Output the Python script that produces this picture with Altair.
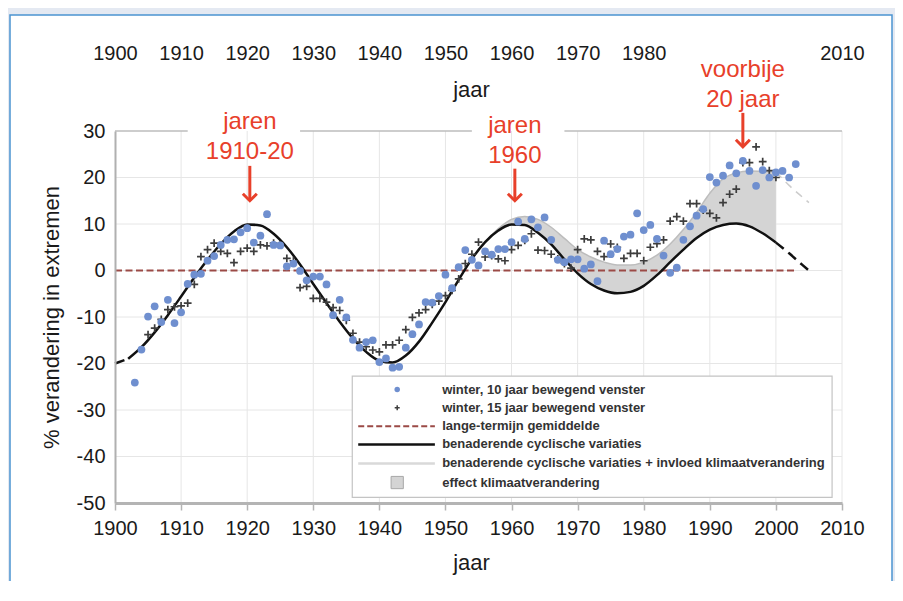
import altair as alt
import pandas as pd

# ---------------- data ----------------
dot_years = list(range(1903, 2004))
dot_vals = [
    -24.1, -17.0, -9.9, -7.7, -11.1, -6.3, -11.3,
    -9.0, -2.9, -0.9, -0.7, 2.1, 3.1, 5.5, 6.6, 6.7, 8.2,
    9.1, 6.0, 7.5, 12.1, 5.5, 5.4, 0.9, 1.5, -0.1, -2.1,
    -1.3, -1.3, -3.0, -9.6, -6.3, -10.1, -14.9, -16.6, -15.4, -15.0,
    -19.7, -18.9, -20.9, -20.7, -16.6, -13.7, -11.6, -6.8, -6.9, -5.5,
    -0.9, -3.8, 0.7, 4.4, 2.3, 1.1, 4.1, 3.4, 4.6, 4.6,
    6.1, 10.5, 6.8, 11.0, 9.3, 11.4, 6.6, 2.3, 1.8, 2.4,
    2.4, 0.4, 1.3, -2.3, 6.4, 3.5, 4.6, 7.3, 7.7, 12.3,
    8.7, 9.8, 6.8, 3.2, -0.5, 0.6, 6.6, 9.5, 11.8, 13.2,
    20.1, 18.9, 20.4, 22.6, 20.9, 23.6, 21.4, 18.2, 21.6, 20.0,
    21.1, 21.4, 20.0, 22.9,
]

cross_years = list(range(1905, 2001))
cross_vals = [
    -13.8, -12.4, -10.5, -8.4, -7.8,
    -7.6, -7.0, -3.0, 3.0, 4.5, 5.9, 4.1, 3.7, 1.7, 4.1,
    4.8, 4.1, 5.5, 5.3, 5.9, 5.5, 2.6, 2.1, -3.7, -3.4,
    -6.0, -6.0, -6.8, -8.0, -8.6, -10.7, -13.5, -15.4, -16.4, -17.1,
    -17.5, -16.0, -16.0, -15.0, -12.7, -10.1, -9.1, -8.4, -7.3, -6.6,
    -5.4, -4.3, -1.8, 1.5, 3.5, 6.1, 2.9, 3.2, 2.5, 2.1,
    4.5, 5.4, 6.5, 7.9, 4.4, 4.3, 3.5, 2.5, 1.5, 0.5,
    4.5, 6.8, 6.6, 4.1, 3.0, 5.7, 5.0, 2.6, 3.7, 3.7,
    2.1, 5.0, 5.8, 6.6, 10.6, 11.6, 10.6, 14.4, 14.4, 13.0,
    12.3, 11.3, 14.6, 16.4, 17.5, 23.2, 23.2, 26.6, 23.4, 21.5,
    20.0,
]

curve_years = list(range(1900, 2001, 2)) + [2002, 2004, 2005]
curve_vals = [
    -20.0, -19.0, -16.5, -13.3, -9.6, -5.6, -1.5, 2.3, 5.7, 8.4,
    9.9, 9.7, 7.9, 5.0, 1.3, -2.9, -7.0, -11.0, -14.6, -17.5,
    -19.4, -19.8, -18.3, -15.3, -11.2, -6.8, -2.0, 2.5, 6.1, 8.6,
    9.9, 9.8, 8.1, 5.6, 2.4, -0.6, -2.9, -4.3, -4.9, -4.6,
    -3.3, -1.0, 1.8, 4.5, 7.0, 8.8, 9.8, 10.1, 9.5, 8.0,
    6.0, 3.7, 1.2, 0.0,
]

upper_years = list(range(1956, 2001, 2))
upper_vals = [
    6.1, 9.0, 11.0, 11.6, 11.0, 9.3, 6.9, 4.5, 2.9, 1.8, 1.2, 1.2,
    1.8, 3.3, 5.7, 8.8, 12.5, 16.6, 19.7, 21.0, 21.4, 21.3, 21.2,
]
upper_ext_years = [2000, 2002, 2004, 2005]
upper_ext_vals = [21.2, 18.3, 15.8, 14.6]

mean_years = [1900, 2003]
mean_vals = [0, 0]

grid_years = list(range(1910, 2011, 10))
grid_vals = list(range(-40, 21, 10))
top_seg_from = [1900, 1928, 1968]
top_seg_to = [1911, 1954, 2010]
top_seg_val = [30, 30, 30]

bottom_ticks = list(range(1900, 2011, 10))
top_ticks = [1900, 1910, 1920, 1930, 1940, 1950, 1960, 1970, 1980, 2010]
y_ticks = list(range(-50, 31, 10))

ann_x = [1920.4, 1960.5, 1995.0]
ann_y = [30.4, 29.6, 41.6]
ann_text = ["jaren\n1910-20", "jaren\n1960", "voorbije\n20 jaar"]
arrow_x = [1920.4, 1960.5, 1995.0]
arrow_from = [22.5, 21.9, 33.9]
arrow_to = [15.0, 15.0, 26.6]

# legend (placed in data units inside the plot)
leg_labels = [
    "winter, 10 jaar bewegend venster",
    "winter, 15 jaar bewegend venster",
    "lange-termijn gemiddelde",
    "benaderende cyclische variaties",
    "benaderende cyclische variaties + invloed klimaatverandering",
    "effect klimaatverandering",
]
leg_rows = [-25.6, -29.5, -33.5, -37.4, -41.5, -45.6]
leg_box_x = [1935.9, 2008.5]
leg_box_y = [-22.7, -48.8]
leg_sym_x = 1942.7
leg_line_x = [1936.8, 1948.4]
leg_text_x = 1949.5

# ---------------- tables ----------------
dots = pd.DataFrame({"yr": dot_years, "v": dot_vals})
crosses = pd.DataFrame({"yr": cross_years, "v": cross_vals})
curve = pd.DataFrame({"yr": curve_years, "v": curve_vals})
curve_main = curve[(curve.yr >= 1902) & (curve.yr <= 2000)]
curve_start = curve[curve.yr <= 1902]
curve_end = curve[curve.yr >= 2000]
upper = pd.DataFrame({"yr": upper_years, "v": upper_vals})
band = upper.merge(curve.rename(columns={"v": "lo"}), on="yr")
upper_ext = pd.DataFrame({"yr": upper_ext_years, "v": upper_ext_vals})
mean = pd.DataFrame({"yr": mean_years, "v": mean_vals})
vgrid = pd.DataFrame({"yr": grid_years})
hgrid = pd.DataFrame({"v": grid_vals})
topline = pd.DataFrame({"a": top_seg_from, "b": top_seg_to, "v": top_seg_val})
ann = pd.DataFrame({"yr": ann_x, "v": ann_y, "t": ann_text})
arrows = pd.DataFrame({"yr": arrow_x, "v": arrow_from, "v2": arrow_to})
one = pd.DataFrame({"k": [0]})

leg_box = pd.DataFrame({"a": [leg_box_x[0]], "b": [leg_box_x[1]],
                        "v": [leg_box_y[0]], "v2": [leg_box_y[1]]})
leg_text = pd.DataFrame({"yr": [leg_text_x] * 6, "v": leg_rows, "t": leg_labels})
leg_dot = pd.DataFrame({"yr": [leg_sym_x], "v": [leg_rows[0]]})
leg_plus = pd.DataFrame({"yr": [leg_sym_x], "v": [leg_rows[1]]})
leg_sq = pd.DataFrame({"yr": [leg_sym_x], "v": [leg_rows[5]]})


def leg_line(i):
    return pd.DataFrame({"a": [leg_line_x[0]], "b": [leg_line_x[1]], "v": [leg_rows[i]]})


FONT = "Liberation Sans"
RED = "#e8402a"
BLUE = "#6f8fcf"
CROSS = "#3d3d3d"
MEAN = "#9b4a46"
CURVE = "#111111"
BAND = "#d4d4d4"

xscale = alt.Scale(domain=[1900, 2010], nice=False, zero=False)
yscale = alt.Scale(domain=[-50, 30], nice=False, zero=False)

yaxis = alt.Axis(values=y_ticks, title="% verandering in extremen", grid=False,
                 ticks=False, domainColor="#b0b0b0", domainWidth=2,
                 labelPadding=10, titlePadding=13, labelExpr="'' + datum.value",
                 zindex=1)
bottom_axis = alt.Axis(orient="bottom", values=bottom_ticks, labelExpr="'' + datum.value",
                       grid=False, domainColor="#b4b4b4", domainWidth=3,
                       tickColor="#b4b4b4", tickWidth=1.5, tickSize=7, labelPadding=8,
                       labelFlush=False, labelOverlap=False, title="jaar",
                       titlePadding=14, titleX=356, zindex=1)
top_axis = alt.Axis(orient="top", values=top_ticks, labelExpr="'' + datum.value",
                    grid=False, domain=False, ticks=False, tickSize=0, labelPadding=0,
                    offset=68, labelFlush=False, labelOverlap=False, title="jaar",
                    titleY=33, titleBaseline="alphabetic", titleX=356, zindex=1)


def X(f, axis=None):
    return alt.X(f, type="quantitative", scale=xscale, axis=axis)


def Y(f):
    return alt.Y(f, type="quantitative", scale=yscale, axis=yaxis)


# ---------------- layers ----------------
panel = alt.Chart(one).mark_rect(fill="white", stroke="#4b94d1", strokeWidth=1.5).encode(
    x=alt.value(-105), x2=alt.value(777), y=alt.value(-116), y2=alt.value(470))

vgrid_l = alt.Chart(vgrid).mark_rule(color="#e6e6e6", strokeWidth=1).encode(
    x=X("yr", top_axis))
hgrid_l = alt.Chart(hgrid).mark_rule(color="#e6e6e6", strokeWidth=1).encode(y=Y("v"))
top_l = alt.Chart(topline).mark_rule(color="#bdbdbd", strokeWidth=1.5).encode(
    x=X("a"), x2="b", y=Y("v"))

band_l = alt.Chart(band).mark_area(color=BAND, opacity=1, interpolate="monotone").encode(
    x=X("yr"), y=Y("v"), y2="lo")
mean_l = alt.Chart(mean).mark_line(color=MEAN, strokeWidth=2, strokeDash=[7, 3.5]).encode(
    x=X("yr"), y=Y("v"))
upper_l = alt.Chart(upper).mark_line(color="#bdbdbd", strokeWidth=1.5, interpolate="monotone").encode(
    x=X("yr"), y=Y("v"))
upper_ext_l = alt.Chart(upper_ext).mark_line(color="#cccccc", strokeWidth=1.5,
                                             strokeDash=[8, 6], interpolate="monotone").encode(
    x=X("yr"), y=Y("v"))
curve_l = alt.Chart(curve_main).mark_line(color=CURVE, strokeWidth=2.5, interpolate="monotone").encode(
    x=X("yr"), y=Y("v"))
curve_s = alt.Chart(curve_start).mark_line(color=CURVE, strokeWidth=2.5, strokeDash=[10, 6]).encode(
    x=X("yr"), y=Y("v"))
curve_e = alt.Chart(curve_end).mark_line(color=CURVE, strokeWidth=2.5, strokeDash=[10, 6],
                                         interpolate="monotone").encode(
    x=X("yr"), y=Y("v"))

PLUS = "M-1,0H1M0,-1V1"
cross_l = alt.Chart(crosses).mark_point(shape=PLUS, filled=False, size=60,
                                        color=CROSS, strokeWidth=1.7, opacity=1).encode(
    x=X("yr"), y=Y("v"))
dots_l = alt.Chart(dots).mark_point(shape="circle", filled=True, size=60, opacity=1,
                                    color=BLUE).encode(
    x=X("yr", bottom_axis), y=Y("v"))

ann_l = alt.Chart(ann).mark_text(font=FONT, fontSize=24, color=RED, align="center",
                                 baseline="alphabetic", lineBreak="\n", lineHeight=30).encode(
    x=X("yr"), y=Y("v"), text="t:N")
shaft_l = alt.Chart(arrows).mark_rule(color=RED, strokeWidth=3).encode(
    x=X("yr"), y=Y("v"), y2="v2")
head_l = alt.Chart(arrows).mark_point(shape="M-1,-1L0,0L1,-1", filled=False, size=196,
                                      color=RED, strokeWidth=3, opacity=1).encode(
    x=X("yr"), y=Y("v2"))

# legend
lbox = alt.Chart(leg_box).mark_rect(fill="white", stroke="#c4c4c4", strokeWidth=1.2).encode(
    x=X("a"), x2="b", y=Y("v"), y2="v2")
ldot = alt.Chart(leg_dot).mark_point(shape="circle", filled=True, size=30, opacity=1,
                                     color=BLUE).encode(x=X("yr"), y=Y("v"))
lplus = alt.Chart(leg_plus).mark_point(shape=PLUS, filled=False, size=25, opacity=1,
                                       color=CROSS, strokeWidth=1.5).encode(x=X("yr"), y=Y("v"))
lmean = alt.Chart(leg_line(2)).mark_rule(color=MEAN, strokeWidth=2, strokeDash=[6, 3]).encode(
    x=X("a"), x2="b", y=Y("v"))
lcurve = alt.Chart(leg_line(3)).mark_rule(color=CURVE, strokeWidth=2.5).encode(
    x=X("a"), x2="b", y=Y("v"))
lupper = alt.Chart(leg_line(4)).mark_rule(color="#d9d9d9", strokeWidth=2.5).encode(
    x=X("a"), x2="b", y=Y("v"))
lsq = alt.Chart(leg_sq).mark_point(shape="square", filled=True, size=150, opacity=1,
                                   fill=BAND, stroke="#a8a8a8", strokeWidth=1).encode(
    x=X("yr"), y=Y("v"))
ltext = alt.Chart(leg_text).mark_text(font=FONT, fontSize=13, fontWeight="bold", color="#333333",
                                      align="left", baseline="middle").encode(
    x=X("yr"), y=Y("v"), text="t:N")

chart = alt.layer(
    panel, vgrid_l, hgrid_l, top_l, band_l, mean_l, upper_l, upper_ext_l,
    curve_l, curve_s, curve_e, cross_l, dots_l, ann_l, shaft_l, head_l,
    lbox, ldot, lplus, lmean, lcurve, lupper, lsq, ltext,
).resolve_axis(x="independent").properties(
    width=727, height=372,
    padding={"left": 107, "top": 123, "right": 53, "bottom": 78},
    autosize=alt.AutoSizeParams(type="none"),
    background="#e4e9f2",
).configure_view(stroke=None).configure_axis(
    labelFont=FONT, labelFontSize=20, labelColor="#1a1a1a",
    titleFont=FONT, titleFontSize=22, titleFontWeight="normal", titleColor="#1a1a1a",
)

chart.save("out.html", embed_options={"renderer": "svg", "actions": False})
